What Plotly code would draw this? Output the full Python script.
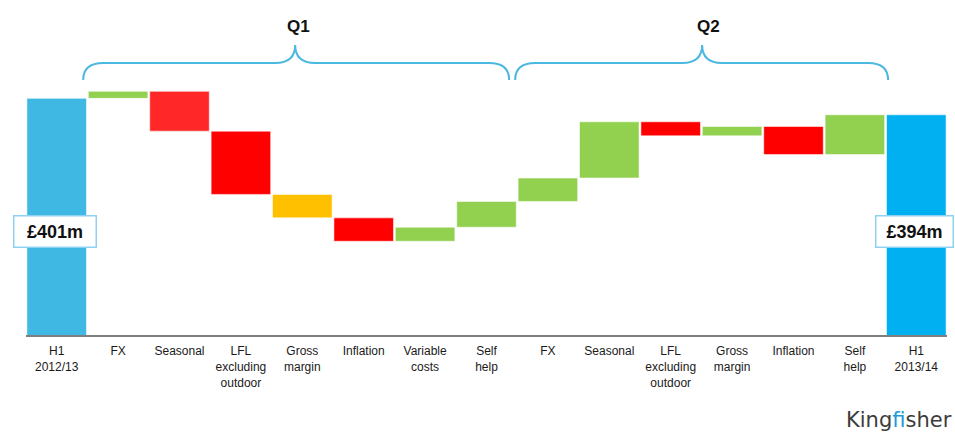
import plotly.graph_objects as go

# ---- data ----
categories = ["H1<br>2012/13", "FX", "Seasonal", "LFL<br>excluding<br>outdoor", "Gross<br>margin",
              "Inflation", "Variable<br>costs", "Self<br>help", "FX", "Seasonal",
              "LFL<br>excluding<br>outdoor", "Gross<br>margin", "Inflation", "Self<br>help",
              "H1<br>2013/14"]
start_total = 401
changes = [3, -17, -27, -10, -10, 6, 11, 10, 24, -6, 4, -12, 17]
end_total = 394
start_label = "£401m"
end_label = "£394m"
bar_colors = ["#3FB8E4", "#92D050", "#FF2727", "#FF0000", "#FFC000", "#FF0000", "#92D050",
              "#92D050", "#92D050", "#92D050", "#FF0000", "#92D050", "#FF0000", "#92D050",
              "#00B0F0"]
group_labels = ["Q1", "Q2"]

# ---- build waterfall ----
xs = list(range(len(categories)))
ys, bases = [start_total], [0]
running = start_total
for c in changes:
    ys.append(c)
    bases.append(running)
    running += c
ys.append(end_total)
bases.append(0)

W, H = 955, 434
L, R, T, B = 25.8, 8.1, 0, 99
PW, PH = W - L - R, H - T - B
y0 = 300
ppu = 2.343  # pixels per unit
y1 = y0 + PH / ppu


def px(xp):
    return (xp - L) / PW


def py(yp):
    return (H - B - yp) / PH


fig = go.Figure()
fig.add_trace(go.Bar(
    x=xs, y=ys, base=bases,
    marker=dict(color=bar_colors, line=dict(color="rgba(255,255,255,0.55)", width=1)),
    hoverinfo="skip", showlegend=False,
))

shapes = []
brace_color = "#4BB8E0"


def brace(x_start, x_peak, x_end):
    yb, yh, yp = 80, 63, 45
    r = 20
    pts = (f"M {px(x_start)},{py(yb)} Q {px(x_start)},{py(yh)} {px(x_start + r)},{py(yh)} "
           f"L {px(x_peak - r)},{py(yh)} Q {px(x_peak)},{py(yh)} {px(x_peak)},{py(yp)} "
           f"Q {px(x_peak)},{py(yh)} {px(x_peak + r)},{py(yh)} "
           f"L {px(x_end - r)},{py(yh)} Q {px(x_end)},{py(yh)} {px(x_end)},{py(yb)}")
    return dict(type="path", xref="paper", yref="paper", path=pts,
                line=dict(color=brace_color, width=2))


shapes.append(brace(83, 295, 509))
shapes.append(brace(515, 702, 888))

common = dict(xref="paper", yref="paper", showarrow=False, xanchor="center", yanchor="middle")
annotations = [
    dict(x=px(298), y=py(26), text="<b>" + group_labels[0] + "</b>",
         font=dict(family="Liberation Sans, Arial", size=17, color="#111111"), **common),
    dict(x=px(708), y=py(26), text="<b>" + group_labels[1] + "</b>",
         font=dict(family="Liberation Sans, Arial", size=17, color="#111111"), **common),
    dict(x=px(54.5), y=py(231), text="<b>" + start_label + "</b>",
         bgcolor="white", bordercolor="#8ED1F0", borderwidth=1.5,
         width=81, height=30, borderpad=0,
         font=dict(family="Liberation Sans, Arial", size=18, color="#111111"), **common),
    dict(x=px(914), y=py(231), text="<b>" + end_label + "</b>",
         bgcolor="white", bordercolor="#8ED1F0", borderwidth=1.5,
         width=76, height=30, borderpad=0,
         font=dict(family="Liberation Sans, Arial", size=18, color="#111111"), **common),
    dict(x=px(899), y=py(420), text="King<span style='color:#1E9BD7'>f</span>isher",
         font=dict(family="DejaVu Sans", size=21, color="#3C3C3C"), **common),
]

fig.update_layout(
    width=W, height=H,
    margin=dict(l=L, r=R, t=T, b=B, pad=0),
    paper_bgcolor="white", plot_bgcolor="white",
    bargap=0.03,
    shapes=shapes, annotations=annotations,
    xaxis=dict(range=[-0.5, len(categories) - 0.5], tickmode="array", tickvals=xs,
               ticktext=categories, showgrid=False, zeroline=False,
               showline=True, linecolor="#7F7F7F", linewidth=2, ticks="",
               ticklabelstandoff=4,
               tickfont=dict(family="Liberation Sans, Arial", size=12, color="#1A1A1A"),
               fixedrange=True),
    yaxis=dict(range=[y0, y1], visible=False, showgrid=False, zeroline=False, fixedrange=True),
)

fig.write_html("out.html", config={"displayModeBar": False},
               post_script="document.body.style.margin='0';")
